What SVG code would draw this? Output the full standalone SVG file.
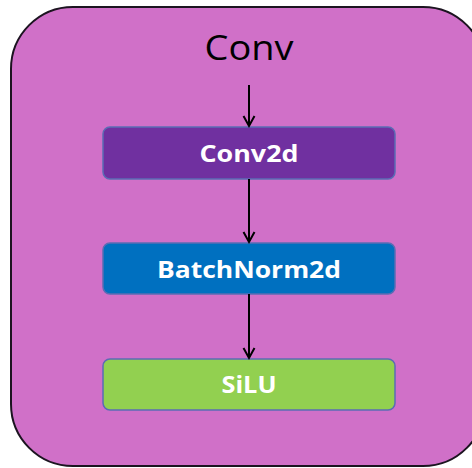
<svg xmlns="http://www.w3.org/2000/svg" width="472" height="468" viewBox="0 0 472 468">
  <style>
    .frame { fill: #D070C8; stroke: #1c1420; stroke-width: 2; }
    .box { stroke: #5A6CB4; stroke-width: 1.5; }
    .label { font-family: "Open Sans", "Liberation Sans", sans-serif; font-weight: 700; font-size: 23px; fill: #ffffff; text-anchor: middle; }
    .title { font-family: "Open Sans", "Liberation Sans", sans-serif; font-size: 34px; fill: #000000; text-anchor: middle; }
    .edge { stroke: #000000; stroke-width: 2; fill: none; }
  </style>
  <defs>
    <marker id="arrow" markerUnits="userSpaceOnUse" markerWidth="24" markerHeight="24" viewBox="-12 -12 24 24" refX="0" refY="0" orient="auto">
      <path d="M-10,-5.5 L0,0 L-10,5.5" fill="none" stroke="#000" stroke-width="2"/>
    </marker>
  </defs>

  <!-- outer module container -->
  <g id="conv">
    <rect class="frame" x="11" y="7" width="474" height="459" rx="62" ry="62"/>
    <text class="title" x="249" y="60" textLength="89" lengthAdjust="spacingAndGlyphs">Conv</text>
  </g>

  <g id="conv2d">
    <rect class="box" x="103" y="127" width="292" height="52" rx="7" fill="#7030A0"/>
    <text class="label" x="249" y="162" textLength="99" lengthAdjust="spacingAndGlyphs">Conv2d</text>
  </g>

  <g id="batchnorm2d">
    <rect class="box" x="103" y="243" width="292" height="51" rx="7" fill="#0070C0"/>
    <text class="label" x="249" y="278" textLength="184" lengthAdjust="spacingAndGlyphs">BatchNorm2d</text>
  </g>

  <g id="silu">
    <rect class="box" x="103" y="359" width="292" height="51" rx="7" fill="#92D050"/>
    <text class="label" x="249" y="393" textLength="55" lengthAdjust="spacingAndGlyphs">SiLU</text>
  </g>

  <!-- connectors -->
  <g id="connectors">
    <line class="edge" x1="249" y1="85" x2="249" y2="126" marker-end="url(#arrow)"/>
    <line class="edge" x1="249" y1="179" x2="249" y2="242" marker-end="url(#arrow)"/>
    <line class="edge" x1="249" y1="294" x2="249" y2="358" marker-end="url(#arrow)"/>
  </g>
</svg>
